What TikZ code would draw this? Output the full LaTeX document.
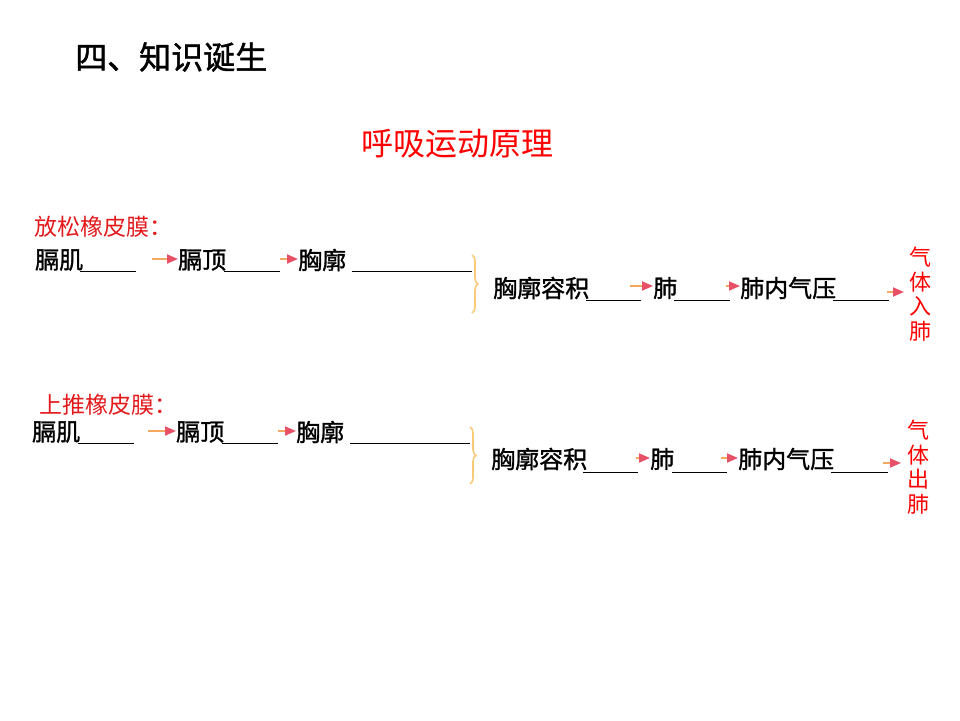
\documentclass[tikz,border=0pt]{standalone}
\usepackage{fontspec}
\newfontfamily\cjk{Noto Sans CJK SC}
\newfontfamily\cjkb[FakeBold=1.3]{Noto Sans CJK SC}
\usetikzlibrary{arrows.meta,decorations.pathreplacing}
\definecolor{redT}{HTML}{FF0000}
\definecolor{redL}{HTML}{E31A1C}
\definecolor{arrline}{HTML}{F4A860}
\definecolor{arrtip}{HTML}{E85068}
\definecolor{bracec}{HTML}{F9CB78}
\begin{document}
\begin{tikzpicture}[x=1pt,y=-1pt,
  lbl/.style={anchor=west,inner sep=0pt,font=\cjkb\fontsize{24}{24}\selectfont},
  head/.style={anchor=west,inner sep=0pt,font=\cjkb\fontsize{32}{32}\selectfont},
  subhead/.style={anchor=west,inner sep=0pt,text=redT,font=\cjk\fontsize{32}{32}\selectfont},
  redhead/.style={anchor=west,inner sep=0pt,text=redL,font=\cjk\fontsize{23}{23}\selectfont},
  vtext/.style={inner sep=0pt,align=center,text=redT,font=\cjk\fontsize{22}{24.5}\selectfont},
  blank/.style={line width=0.9pt,black},
  arr/.style={line width=1.8pt,arrline,-{Triangle[length=11pt,width=9pt,color=arrtip]}},
  bracket/.style={bracec,line width=1.6pt,decorate,decoration={brace,amplitude=6pt,aspect=0.5}}
]
\useasboundingbox (0,0) rectangle (960,720);

% headings
\node[head] (title) at (75,57) {四、知识诞生};
\node[subhead] (sub) at (361,144) {呼吸运动原理};

% ---------- row 1 ----------
\node[redhead] (r1h) at (34,227) {放松橡皮膜：};
\node[lbl] (r1a) at (35,260) {膈肌};
\node[lbl] (r1b) at (178,260) {膈顶};
\node[lbl] (r1c) at (298,260) {胸廓};
\draw[blank] (80,271) -- (136,271);
\draw[blank] (224,271) -- (280,271);
\draw[blank] (352,271) -- (472,271);
\coordinate (r1s1) at (152,259);
\coordinate (r1s2) at (280,259);
\draw[arr] (r1s1) -- (r1b.west |- r1s1);
\draw[arr] (r1s2) -- (r1c.west |- r1s2);
\draw[bracket] (472,255) -- (472,313);

\node[lbl] (r1d) at (493,288) {胸廓容积};
\node[lbl] (r1e) at (653,288) {肺};
\node[lbl] (r1f) at (740,288) {肺内气压};
\draw[blank] (586,300) -- (641,300);
\draw[blank] (674,300) -- (730,300);
\draw[blank] (833,300) -- (889,300);
\coordinate (r1s3) at (630,286);
\coordinate (r1s4) at (726,286);
\coordinate (r1s5) at (887,292);
\coordinate (r1e5) at (904,292);
\draw[arr] (r1s3) -- (r1e.west |- r1s3);
\draw[arr] (r1s4) -- (r1f.west |- r1s4);
\draw[arr] (r1s5) -- (r1e5);
\node[vtext] (r1v) at (920,294) {气\\体\\入\\肺};

% ---------- row 2 ----------
\node[redhead] (r2h) at (39,405) {上推橡皮膜：};
\node[lbl] (r2a) at (32,432) {膈肌};
\node[lbl] (r2b) at (176,432) {膈顶};
\node[lbl] (r2c) at (296,432) {胸廓};
\draw[blank] (78,443) -- (134,443);
\draw[blank] (222,443) -- (278,443);
\draw[blank] (350,443) -- (470,443);
\coordinate (r2s1) at (148,431);
\coordinate (r2s2) at (278,431);
\draw[arr] (r2s1) -- (r2b.west |- r2s1);
\draw[arr] (r2s2) -- (r2c.west |- r2s2);
\draw[bracket] (470,427) -- (470,484);

\node[lbl] (r2d) at (491,459) {胸廓容积};
\node[lbl] (r2e) at (650,459) {肺};
\node[lbl] (r2f) at (738,459) {肺内气压};
\draw[blank] (583,472) -- (638,472);
\draw[blank] (672,472) -- (727,472);
\draw[blank] (831,472) -- (888,472);
\coordinate (r2s3) at (636,458);
\coordinate (r2s4) at (721,458);
\coordinate (r2s5) at (883,463);
\coordinate (r2e5) at (901,463);
\draw[arr] (r2s3) -- (r2e.west |- r2s3);
\draw[arr] (r2s4) -- (r2f.west |- r2s4);
\draw[arr] (r2s5) -- (r2e5);
\node[vtext] (r2v) at (918,467) {气\\体\\出\\肺};
\end{tikzpicture}
\end{document}
